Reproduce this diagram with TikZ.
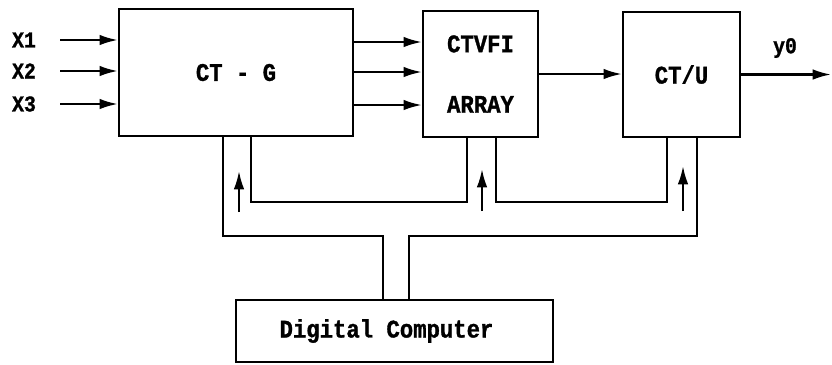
\documentclass[tikz,border=0pt]{standalone}
\usepackage{fontspec}
\setmainfont{Liberation Mono}[FakeStretch=0.88, BoldFeatures={FakeBold=1.2}]
\usetikzlibrary{arrows.meta, positioning, calc}

\tikzset{
    blk/.style={draw, line width=1.6pt, inner sep=0pt, font=\fontsize{18}{21}\selectfont\bfseries},
    lbl/.style={font=\fontsize{16}{18}\selectfont\bfseries},
    arr/.style={line width=1.6pt, -{Latex[length=13pt, width=7.5pt]}},
    bus/.style={line width=1.6pt}
}

\begin{document}
\begin{tikzpicture}[x=0.025cm, y=-0.025cm]
    \useasboundingbox (0, 0) rectangle (832, 364);

    % Blocks
    \node[blk, minimum width=5.85cm, minimum height=3.175cm] (ctg) at (236, 72.5) {CT - G};
    \node[blk, minimum width=2.875cm, minimum height=3.15cm, align=center] (ctvfi) at (480.5, 74) {CTVFI\\[22pt]ARRAY};
    \node[blk, minimum width=2.925cm, minimum height=3.125cm] (ctu) at (681.5, 74.5) {CT/U};
    \node[blk, minimum width=7.925cm, minimum height=1.55cm] (dc) at (394.5, 331) {Digital Computer\hspace*{0.4cm}};

    % Inputs
    \foreach \n/\y in {1/40, 2/71, 3/104}{
        \node[lbl] (x\n) at (24, \y) {X\n};
        \coordinate (in\n) at (60, \y);
        \draw[arr] (in\n) -- (in\n -| ctg.west);
    }

    % CT-G to array
    \foreach \y in {42, 72, 105}{
        \draw[arr] (ctg.east |- 0,\y) -- (ctvfi.west |- 0,\y);
    }

    % Array to CT/U and output
    \draw[arr] (ctvfi.east) -- (ctvfi.east -| ctu.west);
    \node[lbl] (yo) at (785, 48) {y0};
    \coordinate (out) at (831, 74.5);
    \draw[arr] (ctu.east) -- (out);

    % Control bus
    \draw[bus] (ctg.south -| 223,0) |- (383, 236) -- (dc.north -| 383,0);
    \draw[bus] (ctg.south -| 251,0) |- (467, 202) -- (ctvfi.south -| 467,0);
    \draw[bus] (ctvfi.south -| 496,0) |- (667, 202) -- (ctu.south -| 667,0);
    \draw[bus] (ctu.south -| 697,0) |- (409, 236) -- (dc.north -| 409,0);

    % Bus arrows
    \draw[arr] (239, 212) -- (239, 171);
    \draw[arr] (482, 211) -- (482, 169);
    \draw[arr] (683, 211) -- (683, 166);
\end{tikzpicture}
\end{document}
